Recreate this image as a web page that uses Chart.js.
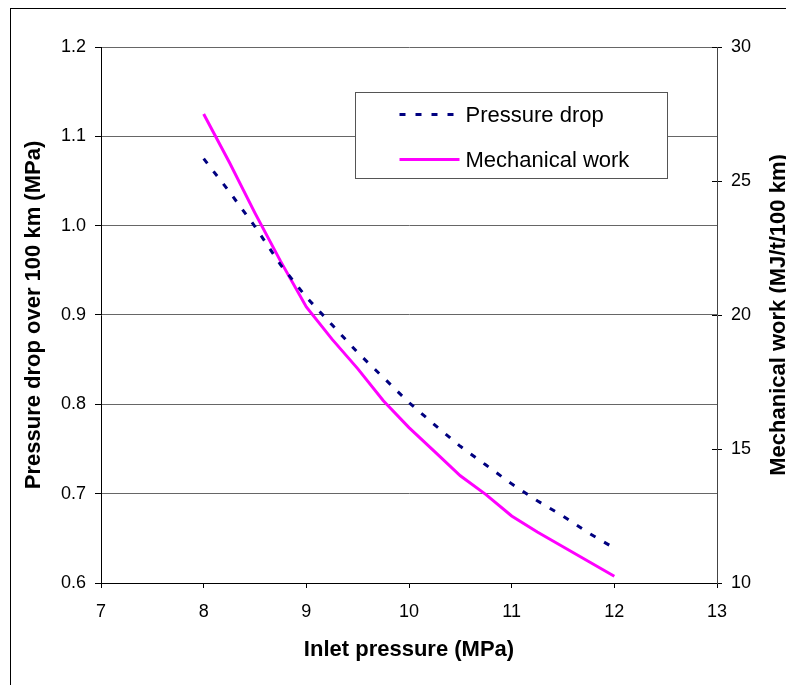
<!DOCTYPE html>
<html>
<head>
<meta charset="utf-8">
<title>Pressure drop and mechanical work vs inlet pressure</title>
<script src="https://cdn.jsdelivr.net/npm/chart.js@4.4.1/dist/chart.umd.min.js"></script>
<style>
  html, body { margin: 0; padding: 0; background: #fff; }
  #chart { display: block; }
</style>
</head>
<body>
<canvas id="chart" width="786" height="685"></canvas>
<script>
// values
const inletPressure = [8, 8.25, 8.5, 8.75, 9, 9.25, 9.5, 9.75, 10, 10.25, 10.5, 10.75, 11, 11.25, 11.5, 11.75, 12];
const pressureDrop = [1.075, 1.038, 0.999, 0.956, 0.920, 0.889, 0.858, 0.830, 0.802, 0.777, 0.753, 0.732, 0.711, 0.692, 0.675, 0.656, 0.639];
const mechanicalWork = [27.5, 25.7, 23.8, 22.0, 20.3, 19.1, 18.0, 16.8, 15.8, 14.9, 14.0, 13.3, 12.5, 11.9, 11.35, 10.8, 10.25];

const xTicks = [7, 8, 9, 10, 11, 12, 13];
const leftTicks = [0.6, 0.7, 0.8, 0.9, 1.0, 1.1, 1.2];
const rightTicks = [10, 15, 20, 25, 30];

const FONT = '"Liberation Sans", Arial, sans-serif';
Chart.defaults.font.family = FONT;
Chart.defaults.font.size = 18;
Chart.defaults.color = '#000';

const toPoints = (xs, ys) => xs.map((x, i) => ({ x: x, y: ys[i] }));
const fixTicks = (list) => (scale) => { scale.ticks = list.map(v => ({ value: v })); };

// outer frame (only top and left edges fall inside the picture)
const framePlugin = {
  id: 'frame',
  beforeDraw(chart) {
    const ctx = chart.ctx;
    ctx.save();
    ctx.strokeStyle = '#000';
    ctx.lineWidth = 1;
    ctx.strokeRect(10.5, 8.5, 800, 700);
    ctx.restore();
  }
};

// right axis: ticks crossing the axis line + title reading bottom to top
const rightAxisExtras = {
  id: 'rightAxisExtras',
  afterDraw(chart) {
    const ctx = chart.ctx;
    const s = chart.scales.y1;
    const area = chart.chartArea;
    ctx.save();
    ctx.strokeStyle = '#000';
    ctx.lineWidth = 1;
    s.ticks.forEach(t => {
      const y = Math.round(s.getPixelForValue(t.value)) + 0.5;
      ctx.beginPath();
      ctx.moveTo(area.right - 5, y);
      ctx.lineTo(area.right, y);
      ctx.stroke();
    });
    ctx.translate(area.right + 62, (area.top + area.bottom) / 2);
    ctx.rotate(-Math.PI / 2);
    ctx.font = 'bold 22px ' + FONT;
    ctx.fillStyle = '#000';
    ctx.textAlign = 'center';
    ctx.textBaseline = 'middle';
    ctx.fillText('Mechanical work (MJ/t/100 km)', 0, 0);
    ctx.restore();
  }
};

// boxed legend inside the plot, like the original
const boxLegend = {
  id: 'boxLegend',
  afterDraw(chart) {
    const ctx = chart.ctx;
    const box = { x: 355.5, y: 92.5, w: 312, h: 86 };
    ctx.save();
    ctx.fillStyle = '#fff';
    ctx.fillRect(box.x, box.y, box.w, box.h);
    ctx.strokeStyle = '#555';
    ctx.lineWidth = 1;
    ctx.strokeRect(box.x, box.y, box.w, box.h);
    ctx.font = '22px ' + FONT;
    ctx.textBaseline = 'middle';
    ctx.textAlign = 'left';
    chart.data.datasets.forEach((ds, i) => {
      const y = box.y + 22 + i * 45;
      ctx.strokeStyle = ds.borderColor;
      ctx.lineWidth = ds.borderWidth;
      ctx.setLineDash(ds.borderDash || []);
      ctx.beginPath();
      ctx.moveTo(box.x + 44, y);
      ctx.lineTo(box.x + 104, y);
      ctx.stroke();
      ctx.setLineDash([]);
      ctx.fillStyle = '#000';
      ctx.fillText(ds.label, box.x + 110, y + 1);
    });
    ctx.restore();
  }
};

new Chart(document.getElementById('chart'), {
  type: 'scatter',
  data: {
    datasets: [
      {
        label: 'Pressure drop',
        data: toPoints(inletPressure, pressureDrop),
        yAxisID: 'y',
        showLine: true,
        borderColor: '#000080',
        borderWidth: 3,
        borderDash: [6, 10],
        pointRadius: 0,
        tension: 0
      },
      {
        label: 'Mechanical work',
        data: toPoints(inletPressure, mechanicalWork),
        yAxisID: 'y1',
        showLine: true,
        borderColor: '#ff00ff',
        borderWidth: 3,
        pointRadius: 0,
        tension: 0
      }
    ]
  },
  options: {
    responsive: false,
    animation: false,
    layout: { padding: { top: 47, left: 0, right: 0, bottom: 0 } },
    plugins: {
      legend: { display: false },
      tooltip: { enabled: false }
    },
    scales: {
      x: {
        type: 'linear',
        min: xTicks[0],
        max: xTicks[xTicks.length - 1],
        afterBuildTicks: fixTicks(xTicks),
        afterFit: (s) => { s.height = 102; },
        border: { color: '#000', width: 1 },
        grid: { drawOnChartArea: false, tickLength: 5, tickColor: '#000' },
        ticks: { padding: 13, maxRotation: 0 },
        title: {
          display: true,
          text: 'Inlet pressure (MPa)',
          font: { weight: 'bold', size: 22 },
          padding: { top: 0, bottom: 22 }
        }
      },
      y: {
        type: 'linear',
        position: 'left',
        min: leftTicks[0],
        max: leftTicks[leftTicks.length - 1],
        afterBuildTicks: fixTicks(leftTicks),
        afterFit: (s) => { s.width = 101; },
        border: { color: '#000', width: 1 },
        grid: { color: '#666', tickLength: 6, tickColor: '#000' },
        ticks: { padding: 9, callback: (v) => Number(v).toFixed(1) },
        title: {
          display: true,
          text: 'Pressure drop over 100 km (MPa)',
          font: { weight: 'bold', size: 22 },
          padding: { top: 21, bottom: 0 }
        }
      },
      y1: {
        type: 'linear',
        position: 'right',
        min: rightTicks[0],
        max: rightTicks[rightTicks.length - 1],
        afterBuildTicks: fixTicks(rightTicks),
        afterFit: (s) => { s.width = 69; },
        border: { color: '#444', width: 1 },
        grid: { drawOnChartArea: false, tickLength: 5, tickColor: '#000' },
        ticks: { padding: 9 }
      }
    }
  },
  plugins: [framePlugin, rightAxisExtras, boxLegend]
});
</script>
</body>
</html>
